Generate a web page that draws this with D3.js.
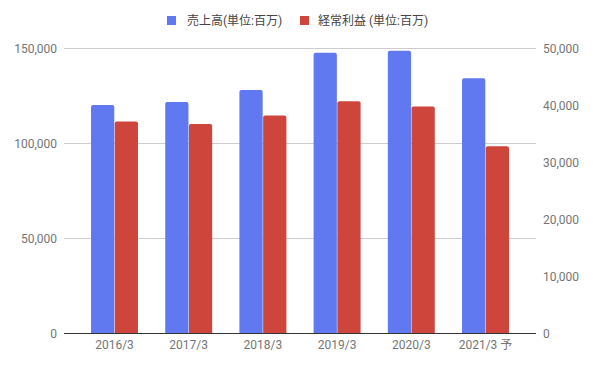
<!DOCTYPE html>
<html><head><meta charset="utf-8">
<script src="https://cdn.jsdelivr.net/npm/d3@7"></script>
<style>
html,body{margin:0;padding:0;background:#fff;}
svg{display:block;font-family:Roboto,"Noto Sans CJK JP",sans-serif;}
</style></head>
<body><svg id="c" width="593" height="368"></svg>
<script>
const categories = ["2016/3","2017/3","2018/3","2019/3","2020/3","2021/3 予"];
const seriesNames = ["売上高(単位:百万)","経常利益 (単位:百万)"];
const sales = [120000,121600,127900,147500,148600,134100];
const ordinaryProfit = [37100,36650,38150,40650,39750,32750];
const leftTicks = [0,50000,100000,150000];
const rightTicks = [0,10000,20000,30000,40000,50000];
const colors = ["#6079f0","#cd453b"];

(function(){
const svg = d3.select("#c");
const plotL = 64, plotR = 536, plotTop = 48, plotBottom = 333;

const x0 = d3.scaleBand().domain(categories).range([77.4,522.6]).paddingInner(0.367).paddingOuter(0.1835);
const x1 = d3.scaleBand().domain([0,1]).range([0,x0.bandwidth()]).paddingInner(0.02);
const yL = d3.scaleLinear().domain([0,150000]).range([plotBottom,plotTop]);
const yR = d3.scaleLinear().domain([0,50000]).range([plotBottom,plotTop]);
const fmt = d3.format(",");

svg.append("g").selectAll("line").data(leftTicks.filter(d=>d>0)).join("line")
  .attr("x1",plotL).attr("x2",plotR).attr("y1",d=>Math.round(yL(d))+0.5).attr("y2",d=>Math.round(yL(d))+0.5)
  .attr("stroke","#cccccc").attr("stroke-width",1);

svg.append("g").selectAll("text").data(leftTicks).join("text")
  .attr("x",57).attr("y",d=>yL(d)+4.5).attr("text-anchor","end")
  .attr("font-size",12).attr("fill","#757575").text(fmt);

svg.append("g").selectAll("text").data(rightTicks).join("text")
  .attr("x",543).attr("y",d=>yR(d)+4.5).attr("text-anchor","start")
  .attr("font-size",12).attr("fill","#757575").text(fmt);

const rows = categories.map((c,i)=>({c, vals:[sales[i],ordinaryProfit[i]]}));
const g = svg.append("g").selectAll("g").data(rows).join("g")
  .attr("transform",d=>`translate(${x0(d.c)},0)`);
g.selectAll("path").data(d=>d.vals.map((v,k)=>({v,k}))).join("path")
  .attr("fill",d=>colors[d.k])
  .attr("d",d=>{
    const xs = x1(d.k), w = x1.bandwidth();
    const yy = d.k===0 ? yL(d.v) : yR(d.v);
    const r = 2;
    return `M${xs},${plotBottom}V${yy+r}Q${xs},${yy} ${xs+r},${yy}H${xs+w-r}Q${xs+w},${yy} ${xs+w},${yy+r}V${plotBottom}Z`;
  });

svg.append("line").attr("x1",plotL).attr("x2",plotR).attr("y1",plotBottom+0.5).attr("y2",plotBottom+0.5)
  .attr("stroke","#333").attr("stroke-width",1);

svg.append("g").selectAll("text").data(categories).join("text")
  .attr("x",d=>x0(d)+x0.bandwidth()/2).attr("y",349).attr("text-anchor","middle")
  .attr("font-size",12).attr("fill","#757575").text(d=>d);

const legX = [167,300];
const lg = svg.append("g").selectAll("g").data(seriesNames).join("g")
  .attr("transform",(d,i)=>`translate(${legX[i]},0)`);
lg.append("rect").attr("x",0).attr("y",16).attr("width",9).attr("height",9).attr("fill",(d,i)=>colors[i]);
lg.append("text").attr("x",(d,i)=>i===0?20:18).attr("y",25).attr("font-size",12).attr("fill","#444").text(d=>d);
})();
</script>
</body></html>
